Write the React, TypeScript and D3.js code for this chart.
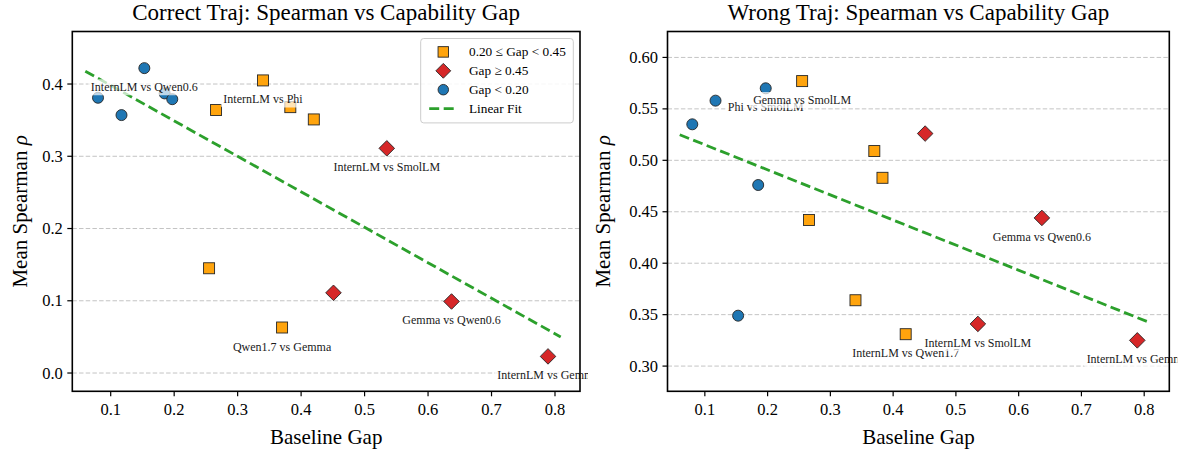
import React, { useEffect, useRef } from "react";
import * as d3 from "d3";

// baseline capability gap of each model pair (same pairs in both panels)
const gaps = [0.08, 0.117, 0.153, 0.185, 0.197, 0.255, 0.266, 0.34, 0.37, 0.383, 0.42, 0.451, 0.535, 0.637, 0.789];

// mean spearman rho per pair
const correctRho = [0.381, 0.357, 0.422, 0.387, 0.379, 0.145, 0.364, 0.405, 0.063, 0.368, 0.351, 0.111, 0.311, 0.099, 0.023];
const wrongRho = [0.535, 0.558, 0.349, 0.476, 0.57, 0.577, 0.442, 0.364, 0.509, 0.483, 0.331, 0.526, 0.341, 0.444, 0.325];

// annotated pairs (index into gaps)
const correctLabelIdx = [2, 7, 8, 12, 13, 14];
const correctLabels = ["InternLM vs Qwen0.6", "InternLM vs Phi", "Qwen1.7 vs Gemma", "InternLM vs SmolLM", "Gemma vs Qwen0.6", "InternLM vs Gemma"];
const wrongLabelIdx = [4, 5, 10, 12, 13, 14];
const wrongLabels = ["Phi vs SmolLM", "Gemma vs SmolLM", "InternLM vs Qwen1.7", "InternLM vs SmolLM", "Gemma vs Qwen0.6", "InternLM vs Gemma"];

const xTicks = [0.1, 0.2, 0.3, 0.4, 0.5, 0.6, 0.7, 0.8];
const correctTicks = [0.0, 0.1, 0.2, 0.3, 0.4];
const wrongTicks = [0.3, 0.35, 0.4, 0.45, 0.5, 0.55, 0.6];

const groupNames = ["0.20 \u2264 Gap < 0.45", "Gap \u2265 0.45", "Gap < 0.20"];
const groupColors = ["#ffa40d", "#d62728", "#1f77b4"];
const fitName = "Linear Fit";

const FONT = "'Liberation Serif', 'Times New Roman', serif";
const MS = 11; // marker size in px

const groupOf = (g: number) => (g < 0.2 ? 2 : g < 0.45 ? 0 : 1);

function marker(sel: any, group: number, cx: number, cy: number, size: number) {
  const stroke = "#262626";
  if (group === 2) {
    sel.append("circle").attr("cx", cx).attr("cy", cy).attr("r", size / 2)
      .attr("fill", groupColors[2]).attr("stroke", stroke).attr("stroke-width", 0.9);
  } else if (group === 0) {
    sel.append("rect").attr("x", cx - size / 2).attr("y", cy - size / 2).attr("width", size).attr("height", size)
      .attr("fill", groupColors[0]).attr("stroke", stroke).attr("stroke-width", 0.9);
  } else {
    const h = (size * Math.SQRT2) / 2;
    sel.append("path").attr("d", `M${cx},${cy - h}L${cx + h},${cy}L${cx},${cy + h}L${cx - h},${cy}Z`)
      .attr("fill", groupColors[1]).attr("stroke", stroke).attr("stroke-width", 0.9);
  }
}

interface PanelOpts {
  id: string;
  left: number;
  right: number;
  top: number;
  bottom: number;
  xDomain: [number, number];
  yDomain: [number, number];
  yTicks: number[];
  fmt: string;
  values: number[];
  labelIdx: number[];
  labels: string[];
  title: string;
  yLabelX: number;
  legend: boolean;
}

function drawPanel(svg: any, o: PanelOpts) {
  const x = d3.scaleLinear().domain(o.xDomain).range([o.left, o.right]);
  const y = d3.scaleLinear().domain(o.yDomain).range([o.bottom, o.top]);
  const g = svg.append("g");

  // text clip box reaches a little past the right spine, like the original
  g.append("clipPath").attr("id", o.id).append("rect")
    .attr("x", o.left).attr("y", o.top).attr("width", o.right - o.left + 8).attr("height", o.bottom - o.top);

  // grid
  g.selectAll(".grid").data(o.yTicks).enter().append("line")
    .attr("x1", o.left).attr("x2", o.right)
    .attr("y1", (d: number) => y(d)).attr("y2", (d: number) => y(d))
    .attr("stroke", "#c4c4c4").attr("stroke-width", 1).attr("stroke-dasharray", "4.5,2.2");

  // scatter, drawn group by group (orange, red, blue)
  [0, 1, 2].forEach((grp) => {
    gaps.forEach((gp, i) => {
      if (groupOf(gp) === grp) marker(g, grp, x(gp), y(o.values[i]), MS);
    });
  });

  // least squares fit
  const mx = d3.mean(gaps) as number;
  const my = d3.mean(o.values) as number;
  const sxy = d3.sum(gaps, (gp, i) => (gp - mx) * (o.values[i] - my));
  const sxx = d3.sum(gaps, (gp) => (gp - mx) * (gp - mx));
  const slope = sxy / sxx;
  const icpt = my - slope * mx;
  const xs = [(d3.min(gaps) as number) - 0.02, (d3.max(gaps) as number) + 0.02];
  const line = d3.line<number>().x((d) => x(d)).y((d) => y(icpt + slope * d));
  g.append("path").attr("d", line(xs)).attr("fill", "none")
    .attr("stroke", "#2ca02c").attr("stroke-width", 2.8).attr("stroke-dasharray", "10,4.5");

  // annotations
  const ann = g.append("g").attr("clip-path", `url(#${o.id})`);
  o.labelIdx.forEach((idx, k) => {
    const lg = ann.append("g");
    const t = lg.append("text")
      .attr("x", x(gaps[idx])).attr("y", y(o.values[idx]) + 19)
      .attr("text-anchor", "middle").attr("dominant-baseline", "central")
      .attr("font-family", FONT).attr("font-size", 12).attr("fill", "#1a1a1a")
      .text(o.labels[k]);
    const bb = (t.node() as SVGTextElement).getBBox();
    lg.insert("rect", "text")
      .attr("x", bb.x - 2.5).attr("y", bb.y - 1).attr("width", bb.width + 5).attr("height", bb.height + 2)
      .attr("rx", 2).attr("fill", "white").attr("fill-opacity", 0.7);
  });

  // spines
  g.append("rect").attr("x", o.left).attr("y", o.top)
    .attr("width", o.right - o.left).attr("height", o.bottom - o.top)
    .attr("fill", "none").attr("stroke", "black").attr("stroke-width", 1.6);

  // y ticks
  const fy = d3.format(o.fmt);
  o.yTicks.forEach((t) => {
    g.append("line").attr("x1", o.left - 5).attr("x2", o.left).attr("y1", y(t)).attr("y2", y(t))
      .attr("stroke", "black").attr("stroke-width", 1.2);
    g.append("text").attr("x", o.left - 9.5).attr("y", y(t)).attr("text-anchor", "end")
      .attr("dominant-baseline", "central").attr("font-family", FONT).attr("font-size", 16.5).text(fy(t));
  });
  // x ticks
  xTicks.forEach((t) => {
    g.append("line").attr("x1", x(t)).attr("x2", x(t)).attr("y1", o.bottom).attr("y2", o.bottom + 5)
      .attr("stroke", "black").attr("stroke-width", 1.2);
    g.append("text").attr("x", x(t)).attr("y", o.bottom + 18).attr("text-anchor", "middle")
      .attr("dominant-baseline", "central").attr("font-family", FONT).attr("font-size", 16.5).text(d3.format(".1f")(t));
  });

  // titles and axis labels
  const cx = (o.left + o.right) / 2;
  g.append("text").attr("x", cx).attr("y", 19.5).attr("text-anchor", "middle")
    .attr("font-family", FONT).attr("font-size", 23).text(o.title);
  g.append("text").attr("x", cx).attr("y", 444).attr("text-anchor", "middle")
    .attr("font-family", FONT).attr("font-size", 21).text("Baseline Gap");
  const yl = g.append("text")
    .attr("transform", `translate(${o.yLabelX},${(o.top + o.bottom) / 2}) rotate(-90)`)
    .attr("text-anchor", "middle").attr("font-family", FONT).attr("font-size", 21);
  yl.append("tspan").text("Mean Spearman ");
  yl.append("tspan").attr("font-style", "italic").text("\u03c1");

  if (o.legend) {
    const lx = o.right - 159.3;
    const ly = o.top + 7;
    g.append("rect").attr("x", lx).attr("y", ly).attr("width", 152.6).attr("height", 84.4).attr("rx", 3)
      .attr("fill", "white").attr("fill-opacity", 0.85).attr("stroke", "#cccccc").attr("stroke-width", 1);
    groupNames.forEach((name, i) => {
      const ry = ly + 13.4 + i * 18.9;
      marker(g, i, lx + 22.6, ry, MS - 0.5);
      g.append("text").attr("x", lx + 48.3).attr("y", ry).attr("dominant-baseline", "central")
        .attr("font-family", FONT).attr("font-size", 13.3).text(name);
    });
    const fy2 = ly + 13.4 + 3 * 18.9;
    g.append("line").attr("x1", lx + 8.5).attr("x2", lx + 34.5).attr("y1", fy2).attr("y2", fy2)
      .attr("stroke", "#2ca02c").attr("stroke-width", 2.8).attr("stroke-dasharray", "10,4.5");
    g.append("text").attr("x", lx + 48.3).attr("y", fy2).attr("dominant-baseline", "central")
      .attr("font-family", FONT).attr("font-size", 13.3).text(fitName);
  }
}

const App: React.FC = () => {
  const svgRef = useRef<SVGSVGElement>(null);

  useEffect(() => {
    if (!svgRef.current) return;
    const svg = d3.select(svgRef.current);
    svg.selectAll("*").remove();

    drawPanel(svg, {
      id: "clipCorrect",
      left: 72.3, right: 580, top: 31.5, bottom: 391.3,
      xDomain: [0.0395, 0.8394], yDomain: [-0.0253, 0.4727],
      yTicks: correctTicks, fmt: ".1f", values: correctRho,
      labelIdx: correctLabelIdx, labels: correctLabels,
      title: "Correct Traj: Spearman vs Capability Gap",
      yLabelX: 27, legend: true,
    });
    drawPanel(svg, {
      id: "clipWrong",
      left: 667.5, right: 1169.3, top: 31.5, bottom: 391.3,
      xDomain: [0.0405, 0.84], yDomain: [0.2755, 0.6252],
      yTicks: wrongTicks, fmt: ".2f", values: wrongRho,
      labelIdx: wrongLabelIdx, labels: wrongLabels,
      title: "Wrong Traj: Spearman vs Capability Gap",
      yLabelX: 610, legend: false,
    });
  }, []);

  return (
    <svg
      ref={svgRef}
      width={1188}
      height={452}
      style={{ position: "absolute", left: 0, top: 0, background: "white" }}
    ></svg>
  );
};

export default App;
